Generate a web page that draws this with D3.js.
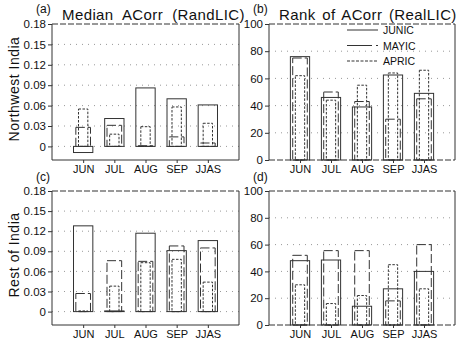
<!DOCTYPE html>
<html>
<head>
<meta charset="utf-8">
<script src="https://cdn.jsdelivr.net/npm/d3@7"></script>
<style>
  html, body { margin: 0; padding: 0; background: #fff; }
  svg { display: block; font-family: 'Liberation Sans', Arial, sans-serif; }
</style>
</head>
<body>
<div id="chart"></div>
<script>
const SIZE = Object.freeze({ WIDTH: 461, HEIGHT: 342 }),
      MONTHS = ['JUN', 'JUL', 'AUG', 'SEP', 'JJAS'],
      IC_NAMES = ['JUNIC', 'MAYIC', 'APRIC'],
      MEDIAN_TICKS = [0, 0.03, 0.06, 0.09, 0.12, 0.15, 0.18],
      RANK_TICKS = [0, 20, 40, 60, 80, 100]

// (a) Northwest India, median ACorr
const NW_MEDIAN_JUNIC = [-0.009, 0.041, 0.086, 0.070, 0.061],
      NW_MEDIAN_MAYIC = [0.028, 0.031, 0.001, 0.014, 0.005],
      NW_MEDIAN_APRIC = [0.055, 0.018, 0.029, 0.058, 0.034]

// (b) Northwest India, rank
const NW_RANK_JUNIC = [76, 46, 39, 62.5, 49],
      NW_RANK_MAYIC = [75, 50, 43, 30, 45],
      NW_RANK_APRIC = [62, 44, 55, 64, 66]

// (c) Rest of India, median ACorr
const ROI_MEDIAN_JUNIC = [0.128, 0.001, 0.117, 0.091, 0.106],
      ROI_MEDIAN_MAYIC = [0.027, 0.076, 0.075, 0.098, 0.095],
      ROI_MEDIAN_APRIC = [0.001, 0.038, 0.073, 0.078, 0.044]

// (d) Rest of India, rank
const ROI_RANK_JUNIC = [48, 48.5, 14, 27, 40],
      ROI_RANK_MAYIC = [52, 55.5, 55.5, 18, 60],
      ROI_RANK_APRIC = [30, 16, 22, 45, 27]

const STYLES = Object.freeze({
  JUNIC: { dash: null, width: 0.62 },
  MAYIC: { dash: '9,3', width: 0.47 },
  APRIC: { dash: '2.5,1.5', width: 0.30 }
})

const INK = '#333'

const PANELS = [
  { tag: '(a)', title: 'Median  ACorr  (RandLIC)', box: [52, 24, 239, 160], domain: [-0.02, 0.18], ticks: MEDIAN_TICKS,
    fmt: d => d === 0 ? '0' : d.toFixed(2), series: [NW_MEDIAN_JUNIC, NW_MEDIAN_MAYIC, NW_MEDIAN_APRIC], ylabel: 'Northwest India' },
  { tag: '(b)', title: 'Rank of ACorr (RealLIC)', box: [269, 24, 455, 160], domain: [0, 100], ticks: RANK_TICKS,
    fmt: d => String(d), series: [NW_RANK_JUNIC, NW_RANK_MAYIC, NW_RANK_APRIC], legend: true },
  { tag: '(c)', box: [52, 191, 239, 325], domain: [-0.02, 0.18], ticks: MEDIAN_TICKS,
    fmt: d => d === 0 ? '0' : d.toFixed(2), series: [ROI_MEDIAN_JUNIC, ROI_MEDIAN_MAYIC, ROI_MEDIAN_APRIC], ylabel: 'Rest of India' },
  { tag: '(d)', box: [269, 191, 455, 325], domain: [0, 100], ticks: RANK_TICKS,
    fmt: d => String(d), series: [ROI_RANK_JUNIC, ROI_RANK_MAYIC, ROI_RANK_APRIC] }
]

const svg = d3.select('#chart')
  .append('svg')
  .attr('width', SIZE.WIDTH)
  .attr('height', SIZE.HEIGHT)

const buildPanel = (p) => {
  const [x0, y0, x1, y1] = p.box
  const xScale = d3.scaleLinear().domain([0, MONTHS.length + 1]).range([x0, x1])
  const yScale = d3.scaleLinear().domain(p.domain).range([y1, y0])
  const step = xScale(1) - xScale(0)
  const g = svg.append('g')

  // dotted grid
  g.selectAll('line.grid')
    .data(p.ticks.filter(t => t !== p.domain[1] && yScale(t) < y1 - 1))
    .enter()
    .append('line')
    .attr('class', 'grid')
    .attr('x1', x0).attr('x2', x1)
    .attr('y1', d => yScale(d)).attr('y2', d => yScale(d))
    .style('stroke', '#999')
    .style('stroke-width', 1)
    .style('stroke-dasharray', '1,5')

  // bars, widest first
  p.series.forEach((values, i) => {
    const st = STYLES[IC_NAMES[i]]
    const w = step * st.width
    g.selectAll(`rect.s${i}`)
      .data(values)
      .enter()
      .append('rect')
      .attr('class', `s${i}`)
      .attr('x', (d, j) => xScale(j + 1) - w / 2)
      .attr('y', d => yScale(Math.max(d, 0)))
      .attr('width', w)
      .attr('height', d => Math.abs(yScale(d) - yScale(0)))
      .style('fill', 'none')
      .style('stroke', INK)
      .style('stroke-width', 1)
      .style('stroke-dasharray', st.dash)
  })

  // frame
  const dashedBottom = p.domain[0] === 0
  g.append('line').attr('x1', x0).attr('x2', x0).attr('y1', y0).attr('y2', y1).style('stroke', INK)
  g.append('line').attr('x1', x1).attr('x2', x1).attr('y1', y0).attr('y2', y1).style('stroke', INK)
  g.append('line').attr('x1', x0).attr('x2', x1).attr('y1', y0).attr('y2', y0)
    .style('stroke', INK).style('stroke-dasharray', '6,2')
  g.append('line').attr('x1', x0).attr('x2', x1).attr('y1', y1).attr('y2', y1)
    .style('stroke', INK).style('stroke-dasharray', dashedBottom ? '6,2' : null)

  // y axis
  const yAxis = d3.axisLeft(yScale).tickValues(p.ticks).tickFormat(p.fmt).tickSize(4).tickPadding(2)
  const ya = g.append('g').attr('transform', `translate(${x0},0)`).call(yAxis)
  ya.select('.domain').remove()
  ya.selectAll('line').style('stroke', INK)
  ya.selectAll('text').style('font-size', '11.5px').style('fill', '#111').style('font-family', 'Liberation Sans, Arial, sans-serif')

  // x axis
  const xAxis = d3.axisBottom(xScale)
    .tickValues(MONTHS.map((_, i) => i + 1))
    .tickFormat(d => MONTHS[d - 1])
    .tickSize(3).tickPadding(2)
  const xa = g.append('g').attr('transform', `translate(0,${y1})`).call(xAxis)
  xa.select('.domain').remove()
  xa.selectAll('line').style('stroke', INK)
  xa.selectAll('text').style('font-size', '11px').style('fill', '#111').style('font-family', 'Liberation Sans, Arial, sans-serif')

  // panel tag and title
  svg.append('text')
    .attr('x', x0 - 16).attr('y', p.title ? 13 : y0 - 10)
    .style('font-size', '12px').style('fill', '#111')
    .text(p.tag)
  if (p.title) {
    svg.append('text')
      .attr('x', x0 + 10).attr('y', 19.5)
      .style('font-size', '15px').style('fill', '#111')
      .style('letter-spacing', '0.4px')
      .style('word-spacing', p.legend ? '2px' : '0px')
      .style('white-space', 'pre')
      .text(p.title)
  }

  if (p.ylabel) {
    svg.append('text')
      .attr('transform', `translate(19, ${(y0 + y1) / 2 - 3}) rotate(-90)`)
      .attr('text-anchor', 'middle')
      .style('font-size', '14px').style('fill', '#111')
      .style('letter-spacing', '0.5px')
      .text(p.ylabel)
  }

  if (p.legend) {
    const legend = svg.append('g').attr('transform', `translate(${x0 + 78}, ${y0 + 6})`)
    const legendDash = ['none', '25,4,5,40', '3,1.5']
    IC_NAMES.forEach((name, i) => {
      legend.append('line')
        .attr('x1', 0).attr('x2', 31)
        .attr('y1', i * 15.5).attr('y2', i * 15.5)
        .style('stroke', INK)
        .style('stroke-dasharray', legendDash[i])
      legend.append('text')
        .attr('x', 36).attr('y', i * 15.5 + 4)
        .style('font-size', '10.5px').style('fill', '#111')
        .text(name)
    })
  }
}

PANELS.forEach(buildPanel)
</script>
</body>
</html>
